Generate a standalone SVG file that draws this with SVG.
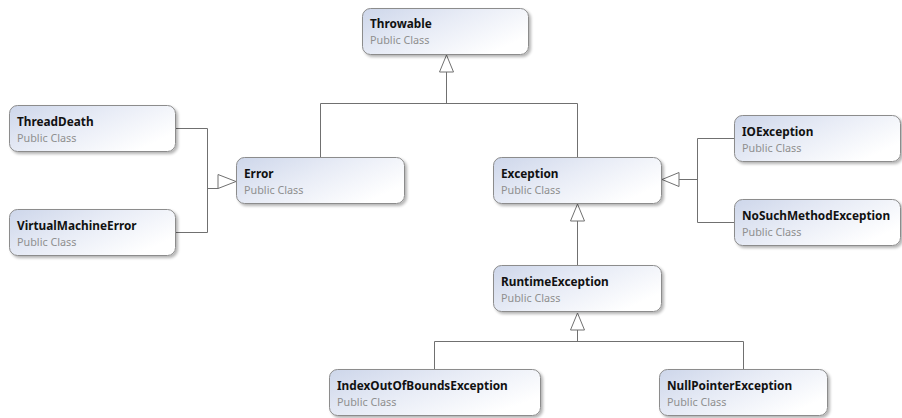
<svg xmlns="http://www.w3.org/2000/svg" width="902" height="418" viewBox="0 0 902 418">
<defs>
<linearGradient id="g" x1="0" y1="0" x2="1" y2="0.6">
<stop offset="0" stop-color="#cdd6ea"/>
<stop offset="0.5" stop-color="#e8ecf6"/>
<stop offset="1" stop-color="#ffffff"/>
</linearGradient>
<filter id="sh" x="-10%" y="-20%" width="120%" height="150%">
<feGaussianBlur in="SourceAlpha" stdDeviation="1.5"/>
<feOffset dx="1.5" dy="2" result="b"/>
<feComponentTransfer><feFuncA type="linear" slope="0.3"/></feComponentTransfer>
<feMerge><feMergeNode/><feMergeNode in="SourceGraphic"/></feMerge>
</filter>
</defs>
<style>
.box{fill:url(#g);stroke:#8c8c8c;stroke-width:1;filter:url(#sh)}
.t{font-family:"Noto Sans","Open Sans",sans-serif;font-weight:bold;font-size:11.8px;fill:#111}
.s{font-family:"Noto Sans","Open Sans",sans-serif;font-size:10.8px;fill:#8f8f8f}
.ln{fill:none;stroke:#707070;stroke-width:1}
.ar{fill:#fff;stroke:#707070;stroke-width:1}
</style>
<rect width="902" height="418" fill="#fff"/>
<g id="connectors">
<path class="ln" d="M320.5 157V103.5H577.5V157M446.5 103.5V72"/>
<polygon class="ar" points="446.5,55 439.5,72 453.5,72"/>
<path class="ln" d="M176 128.5H207.5V232.5H176M207.5 188.5H218"/>
<polygon class="ar" points="236,181 218,174 218,188" transform="translate(0,0.5)"/>
<path class="ln" d="M577.5 221V265"/>
<polygon class="ar" points="577.5,204 570.5,221 584.5,221"/>
<path class="ln" d="M734 138.5H697.5V222.5H734M697.5 179.5H679"/>
<polygon class="ar" points="662,179.5 679,172.5 679,186.5"/>
<path class="ln" d="M434.5 369V341.5H743.5V369M577.5 341.5V330"/>
<polygon class="ar" points="577.5,313 570.5,330 584.5,330"/>
</g>
<g id="Throwable"><rect class="box" x="362.5" y="8.5" width="166" height="46" rx="8"/><text class="t" x="370" y="28">Throwable</text><text class="s" x="370" y="44">Public Class</text></g>
<g id="ThreadDeath"><rect class="box" x="9.5" y="105.5" width="166" height="46" rx="8"/><text class="t" x="17" y="126">ThreadDeath</text><text class="s" x="17" y="142">Public Class</text></g>
<g id="VirtualMachineError"><rect class="box" x="9.5" y="209.5" width="166" height="46" rx="8"/><text class="t" x="17" y="230">VirtualMachineError</text><text class="s" x="17" y="246">Public Class</text></g>
<g id="Error"><rect class="box" x="236.5" y="157.5" width="168" height="46" rx="8"/><text class="t" x="244" y="178">Error</text><text class="s" x="244" y="194">Public Class</text></g>
<g id="Exception"><rect class="box" x="493.5" y="157.5" width="168" height="46" rx="8"/><text class="t" x="501" y="178">Exception</text><text class="s" x="501" y="194">Public Class</text></g>
<g id="IOException"><rect class="box" x="734.5" y="115.5" width="166" height="46" rx="8"/><text class="t" x="742" y="136">IOException</text><text class="s" x="742" y="152">Public Class</text></g>
<g id="NoSuchMethodException"><rect class="box" x="734.5" y="199.5" width="166" height="46" rx="8"/><text class="t" x="742" y="220">NoSuchMethodException</text><text class="s" x="742" y="236">Public Class</text></g>
<g id="RuntimeException"><rect class="box" x="493.5" y="265.5" width="168" height="46" rx="8"/><text class="t" x="501" y="286">RuntimeException</text><text class="s" x="501" y="302">Public Class</text></g>
<g id="IndexOutOfBoundsException"><rect class="box" x="329.5" y="369.5" width="211" height="46" rx="8"/><text class="t" x="337" y="390">IndexOutOfBoundsException</text><text class="s" x="337" y="406">Public Class</text></g>
<g id="NullPointerException"><rect class="box" x="659.5" y="369.5" width="168" height="46" rx="8"/><text class="t" x="667" y="390">NullPointerException</text><text class="s" x="667" y="406">Public Class</text></g>
</svg>
